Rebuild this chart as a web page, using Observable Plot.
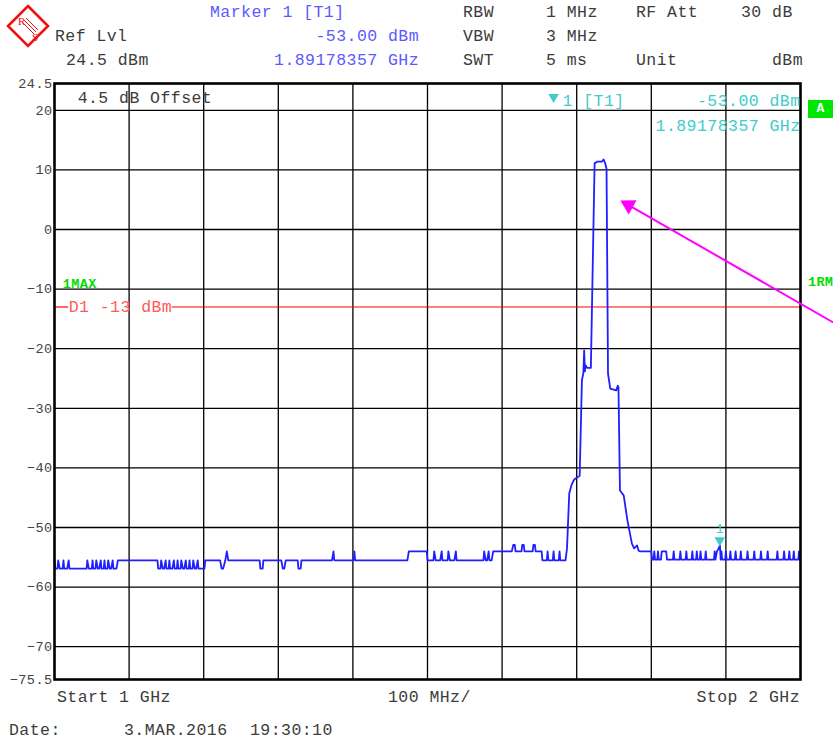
<!DOCTYPE html>
<html><head><meta charset="utf-8">
<script src="https://cdn.jsdelivr.net/npm/d3@7"></script>
<script src="https://cdn.jsdelivr.net/npm/@observablehq/plot@0.6"></script>
<style>
body{margin:0;background:#fff;}
#wrap{position:relative;width:833px;height:742px;overflow:hidden;font-family:"Liberation Mono","DejaVu Sans Mono",monospace;}
#wrap svg.plot text{letter-spacing:0.45px;}
.t{position:absolute;white-space:pre;font-size:16.5px;letter-spacing:0.45px;line-height:16px;color:#3c3c3c;}
.blue{color:#5a5aff;}
.green{color:#00dd00;font-weight:bold;font-size:13.5px;letter-spacing:0.3px;}
#abox{position:absolute;left:808px;top:100px;width:25px;height:18px;background:#00e600;color:#fff;font-weight:bold;font-size:13px;line-height:18px;text-align:center;}
#logo{position:absolute;left:5px;top:3px;z-index:2;}
</style></head>
<body><div id="wrap">
<svg id="logo" width="46" height="46" viewBox="0 0 46 46" xmlns="http://www.w3.org/2000/svg">
  <polygon points="23,3 43,23 23,43 3,23" fill="#fff" stroke="#ee1111" stroke-width="2.6"/>
  <line x1="19" y1="17" x2="31" y2="29" stroke="#ee1111" stroke-width="1"/>
  <line x1="17" y1="19" x2="29" y2="31" stroke="#ee1111" stroke-width="1"/>
  <line x1="21" y1="15" x2="33" y2="27" stroke="#ee1111" stroke-width="1"/>
  <text x="13" y="22" font-size="11" fill="#ee1111" font-family="Liberation Serif, serif">R</text>
  <text x="27" y="38" font-size="11" fill="#ee1111" font-family="Liberation Serif, serif">S</text>
</svg>
</div>
<script>
// ---- data (frequency in MHz, level in dBm) ----
const noiseLeft = [
[1000,-55.5],[1001,-56.9],[1004,-56.9],[1005,-55.5],[1007,-56.9],[1011,-56.9],[1012,-55.5],[1013,-56.9],[1017,-56.9],[1019,-55.5],[1020,-56.9],[1043,-56.9],[1044,-55.5],[1046,-56.9],[1050,-56.9],[1051,-55.5],[1052,-56.9],[1055,-56.9],[1056,-55.5],[1058,-56.9],[1060,-56.9],[1062,-55.5],[1063,-56.9],[1066,-56.9],[1067,-55.5],[1068,-56.9],[1071,-56.9],[1072,-55.5],[1074,-56.9],[1076,-56.9],[1078,-55.5],[1079,-56.9],[1083,-56.9],[1085,-55.5],
[1138,-55.5],[1139,-56.9],[1142,-56.9],[1143,-55.5],[1145,-56.9],[1147,-56.9],[1149,-55.5],[1150,-56.9],[1153,-56.9],[1154,-55.5],[1155,-56.9],[1158,-56.9],[1160,-55.5],[1161,-56.9],[1164,-56.9],[1165,-55.5],[1166,-56.9],[1169,-56.9],[1170,-55.5],[1172,-56.9],[1174,-56.9],[1176,-55.5],[1177,-56.9],[1180,-56.9],[1181,-55.5],[1182,-56.9],[1185,-56.9],[1186,-55.5],[1188,-56.9],[1190,-56.9],[1192,-55.5],[1193,-56.9],[1201,-56.9],[1202,-55.5],
[1222,-55.5],[1224,-56.9],[1226,-56.9],[1229,-55.5],[1231,-54.0],[1233,-55.5],
[1275,-55.5],[1276,-56.9],[1279,-56.9],[1280,-55.5],
[1304,-55.5],[1306,-56.9],[1308,-56.9],[1310,-55.5],
[1326,-55.5],[1327,-56.9],[1330,-56.9],[1331,-55.5],
[1372,-55.5],[1374,-54.0],[1375,-55.5],
[1401,-55.5],[1402,-54.0],[1403,-55.5],
[1473,-55.5],[1475,-54.0],
[1499,-54.0],[1500,-55.5],[1508,-55.5],[1509,-54.0],[1511,-55.5],[1517,-55.5],[1519,-54.0],[1520,-55.5],[1527,-55.5],[1528,-54.0],[1530,-55.5],[1536,-55.5],[1538,-54.0],[1539,-55.5],[1575,-55.5],[1576,-54.0],[1578,-55.5],[1580,-55.5],[1582,-54.0],[1583,-55.5],[1586,-55.5],[1588,-54.0],
[1613,-54.0],[1615,-52.9],[1617,-52.9],[1618,-54.0],[1626,-54.0],[1627,-52.9],[1629,-52.9],[1630,-54.0],[1641,-54.0],[1642,-52.9],[1644,-52.9],[1645,-54.0],
[1653,-54.0],[1654,-55.5],[1660,-55.5],[1661,-54.0],[1662,-55.5],[1668,-55.5],[1669,-54.0],[1670,-55.5],[1676,-55.5],[1677,-54.0],[1678,-55.5],[1685,-55.5]
];
const carrier = [
[1687,-53.5],[1690,-44.3],[1693,-42.9],[1696,-42.1],[1698,-41.8],[1704,-41.3],[1707,-25.3],[1709,-24.0],[1710,-20.3],[1711,-23.8],[1712,-22.8],[1714,-23.2],[1719,-23.2],[1724,11.1],[1728,11.4],[1734,11.4],[1736,11.75],[1738,11.2],[1740,10.2],[1742,-24.2],[1745,-26.7],[1753,-27.0],[1755,-26.2],[1756,-26.5],[1758,-43.8],[1763,-44.6],[1768,-48.8],[1774,-52.7],[1777,-53.5],[1781,-53.0],[1783,-53.9]
];
const noiseRight = [
[1785,-54.0],[1800,-54.0],[1801,-55.4],[1803,-55.4],[1804,-54.0],[1805,-55.4],[1808,-55.4],[1809,-54.0],[1810,-55.4],[1813,-55.4],[1814,-54.0],[1820,-54.0],[1821,-55.4],
[1829,-55.4],[1830,-54.0],[1831,-55.4],[1838,-55.4],[1839,-54.0],[1840,-55.4],[1846,-55.4],[1847,-54.0],[1848,-55.4],[1854,-55.4],[1855,-54.0],[1856,-55.4],[1860,-55.4],[1861,-54.0],[1862,-55.4],[1865,-55.4],[1866,-54.0],[1867,-55.4],[1872,-55.4],[1873,-54.0],[1874,-55.4],
[1884,-55.4],[1885,-54.0],[1886,-55.4],[1888,-54.0],[1890,-53.6],[1892,-53.0],[1893,-55.4],[1894,-54.0],[1895,-55.4],
[1899,-55.4],[1900,-54.0],[1901,-55.4],[1905,-55.4],[1906,-54.0],[1907,-55.4],[1912,-55.4],[1913,-54.0],[1914,-55.4],[1919,-55.4],[1920,-54.0],[1921,-55.4],[1928,-55.4],[1929,-54.0],[1930,-55.4],[1937,-55.4],[1938,-54.0],[1939,-55.4],[1946,-55.4],[1947,-54.0],[1948,-55.4],[1955,-55.4],[1956,-54.0],[1957,-55.4],
[1968,-55.4],[1969,-54.0],[1970,-55.4],[1977,-55.4],[1978,-54.0],[1979,-55.4],[1984,-55.4],[1985,-54.0],[1986,-55.4],[1990,-55.4],[1991,-54.0],[1992,-55.4],[1997,-55.4],[1998,-54.0],[1999,-55.4],[2000,-55.4]
];
const xGrid = [1100,1200,1300,1400,1500,1600,1700,1800,1900];
const yGrid = [20,10,0,-10,-20,-30,-40,-50,-60,-70];
const yTicks = [24.5,20,10,0,-10,-20,-30,-40,-50,-60,-70,-75.5];
const refLevel = -13;
const refSegments = [{x1:1000,x2:1019},{x1:1158,x2:2000}];
const marker = {f:1891.78357, db:-53.0};
const arrowTail = {f:2044, db:-15.6};
const arrowTip = {f:1769.5, db:4.1};
const textsStart = [
  {f:1031, db:22.15, text:"4.5 dB Offset", color:"#3c3c3c"},
  {f:1681, db:21.65, text:"1 [T1]", color:"#40cccc"},
  {f:1019, db:-13, text:"D1 -13 dBm", color:"#ff5a5a"}
];
const textsEnd = [
  {f:2000, db:21.65, text:"-53.00 dBm", color:"#40cccc"},
  {f:2000, db:17.45, text:"1.89178357 GHz", color:"#40cccc"}
];
const textsBold = [
  {f:1011, db:-9.1, text:"1MAX", color:"#00dd00"}
];
const headerTexts = [
  {t:"Marker 1 [T1]", x:210, y:13, c:"blue"},
  {t:"RBW", x:463, y:13}, {t:"1 MHz", x:546, y:13}, {t:"RF Att", x:636, y:13}, {t:"30 dB", x:741, y:13},
  {t:"Ref Lvl", x:55, y:37}, {t:"-53.00 dBm", r:419, y:37, c:"blue"}, {t:"VBW", x:463, y:37}, {t:"3 MHz", x:546, y:37},
  {t:"24.5 dBm", x:66, y:61}, {t:"1.89178357 GHz", r:419, y:61, c:"blue"}, {t:"SWT", x:463, y:61}, {t:"5 ms", x:546, y:61}, {t:"Unit", x:636, y:61}, {t:"dBm", x:772, y:61},
  {t:"Start 1 GHz", x:57, y:698}, {t:"100 MHz/", x:388, y:698}, {t:"Stop 2 GHz", r:800, y:698},
  {t:"Date:", x:9, y:731}, {t:"3.MAR.2016", x:124, y:731}, {t:"19:30:10", x:250, y:731},
  {t:"1RM", x:808, y:283, c:"green"}
];

const trace = noiseLeft.concat(carrier, noiseRight);
const fmt = d => String(d).replace("-", "\u2212");

const chart = Plot.plot({
  width: 833, height: 742,
  marginLeft: 54, marginTop: 83, marginRight: 33, marginBottom: 63,
  x: {domain: [1000, 2000], axis: null, label: null},
  y: {domain: [-75.5, 24.5], axis: null, label: null},
  style: {fontFamily: "'Liberation Mono', 'DejaVu Sans Mono', monospace", background: "transparent", color: "#444", overflow: "visible"},
  marks: [
    Plot.ruleX(xGrid, {stroke: "#000", strokeWidth: 1.3}),
    Plot.ruleY(yGrid, {stroke: "#000", strokeWidth: 1.3}),
    Plot.ruleY(refSegments, {y: () => refLevel, x1: "x1", x2: "x2", stroke: "#ff0000", strokeWidth: 1.2}),
    Plot.line(trace, {x: d => d[0], y: d => d[1], stroke: "#1f1fff", strokeWidth: 1.8}),
    Plot.frame({stroke: "#000", strokeWidth: 2.6}),
    Plot.axisY({ticks: yTicks, tickSize: 0, tickPadding: 2, fontSize: 13.5, tickFormat: fmt, label: null}),
    Plot.text(textsStart, {x: "f", y: "db", text: "text", fill: "color", textAnchor: "start", fontSize: 16.5}),
    Plot.text(textsEnd, {x: "f", y: "db", text: "text", fill: "color", textAnchor: "end", fontSize: 16.5}),
    Plot.text(textsBold, {x: "f", y: "db", text: "text", fill: "color", textAnchor: "start", fontSize: 13.5, fontWeight: "bold"}),
    Plot.dot([marker], {x: "f", y: "db", symbol: "triangle", rotate: 180, r: 3.9, fill: "#40cccc", stroke: "none", dy: -5}),
    Plot.text([marker], {x: "f", y: "db", text: () => "1", fill: "#40cccc", fontSize: 13, dy: -17}),
    Plot.dot([{f:1669, db:22.24}], {x: "f", y: "db", symbol: "triangle", rotate: 180, r: 3.9, fill: "#40cccc", stroke: "none"}),
    Plot.link([{a: arrowTail, b: arrowTip}], {x1: d => d.a.f, y1: d => d.a.db, x2: d => d.b.f, y2: d => d.b.db, stroke: "#ff00ff", strokeWidth: 2}),
    Plot.dot([arrowTip], {x: "f", y: "db", symbol: "triangle", rotate: -61, r: 6, fill: "#ff00ff", stroke: "none"})
  ]
});
chart.classList.add("plot");
chart.style.position = "absolute";
chart.style.left = "0px";
chart.style.top = "0px";
const wrap = document.getElementById("wrap");
wrap.insertBefore(chart, wrap.firstChild);

for (const h of headerTexts) {
  const d = document.createElement("div");
  d.className = "t" + (h.c ? " " + h.c : "");
  d.textContent = h.t;
  d.style.top = (h.y - 8) + "px";
  if (h.r !== undefined) d.style.right = (833 - h.r) + "px"; else d.style.left = h.x + "px";
  wrap.appendChild(d);
}
const a = document.createElement("div");
a.id = "abox"; a.textContent = "A"; wrap.appendChild(a);
</script></body></html>
